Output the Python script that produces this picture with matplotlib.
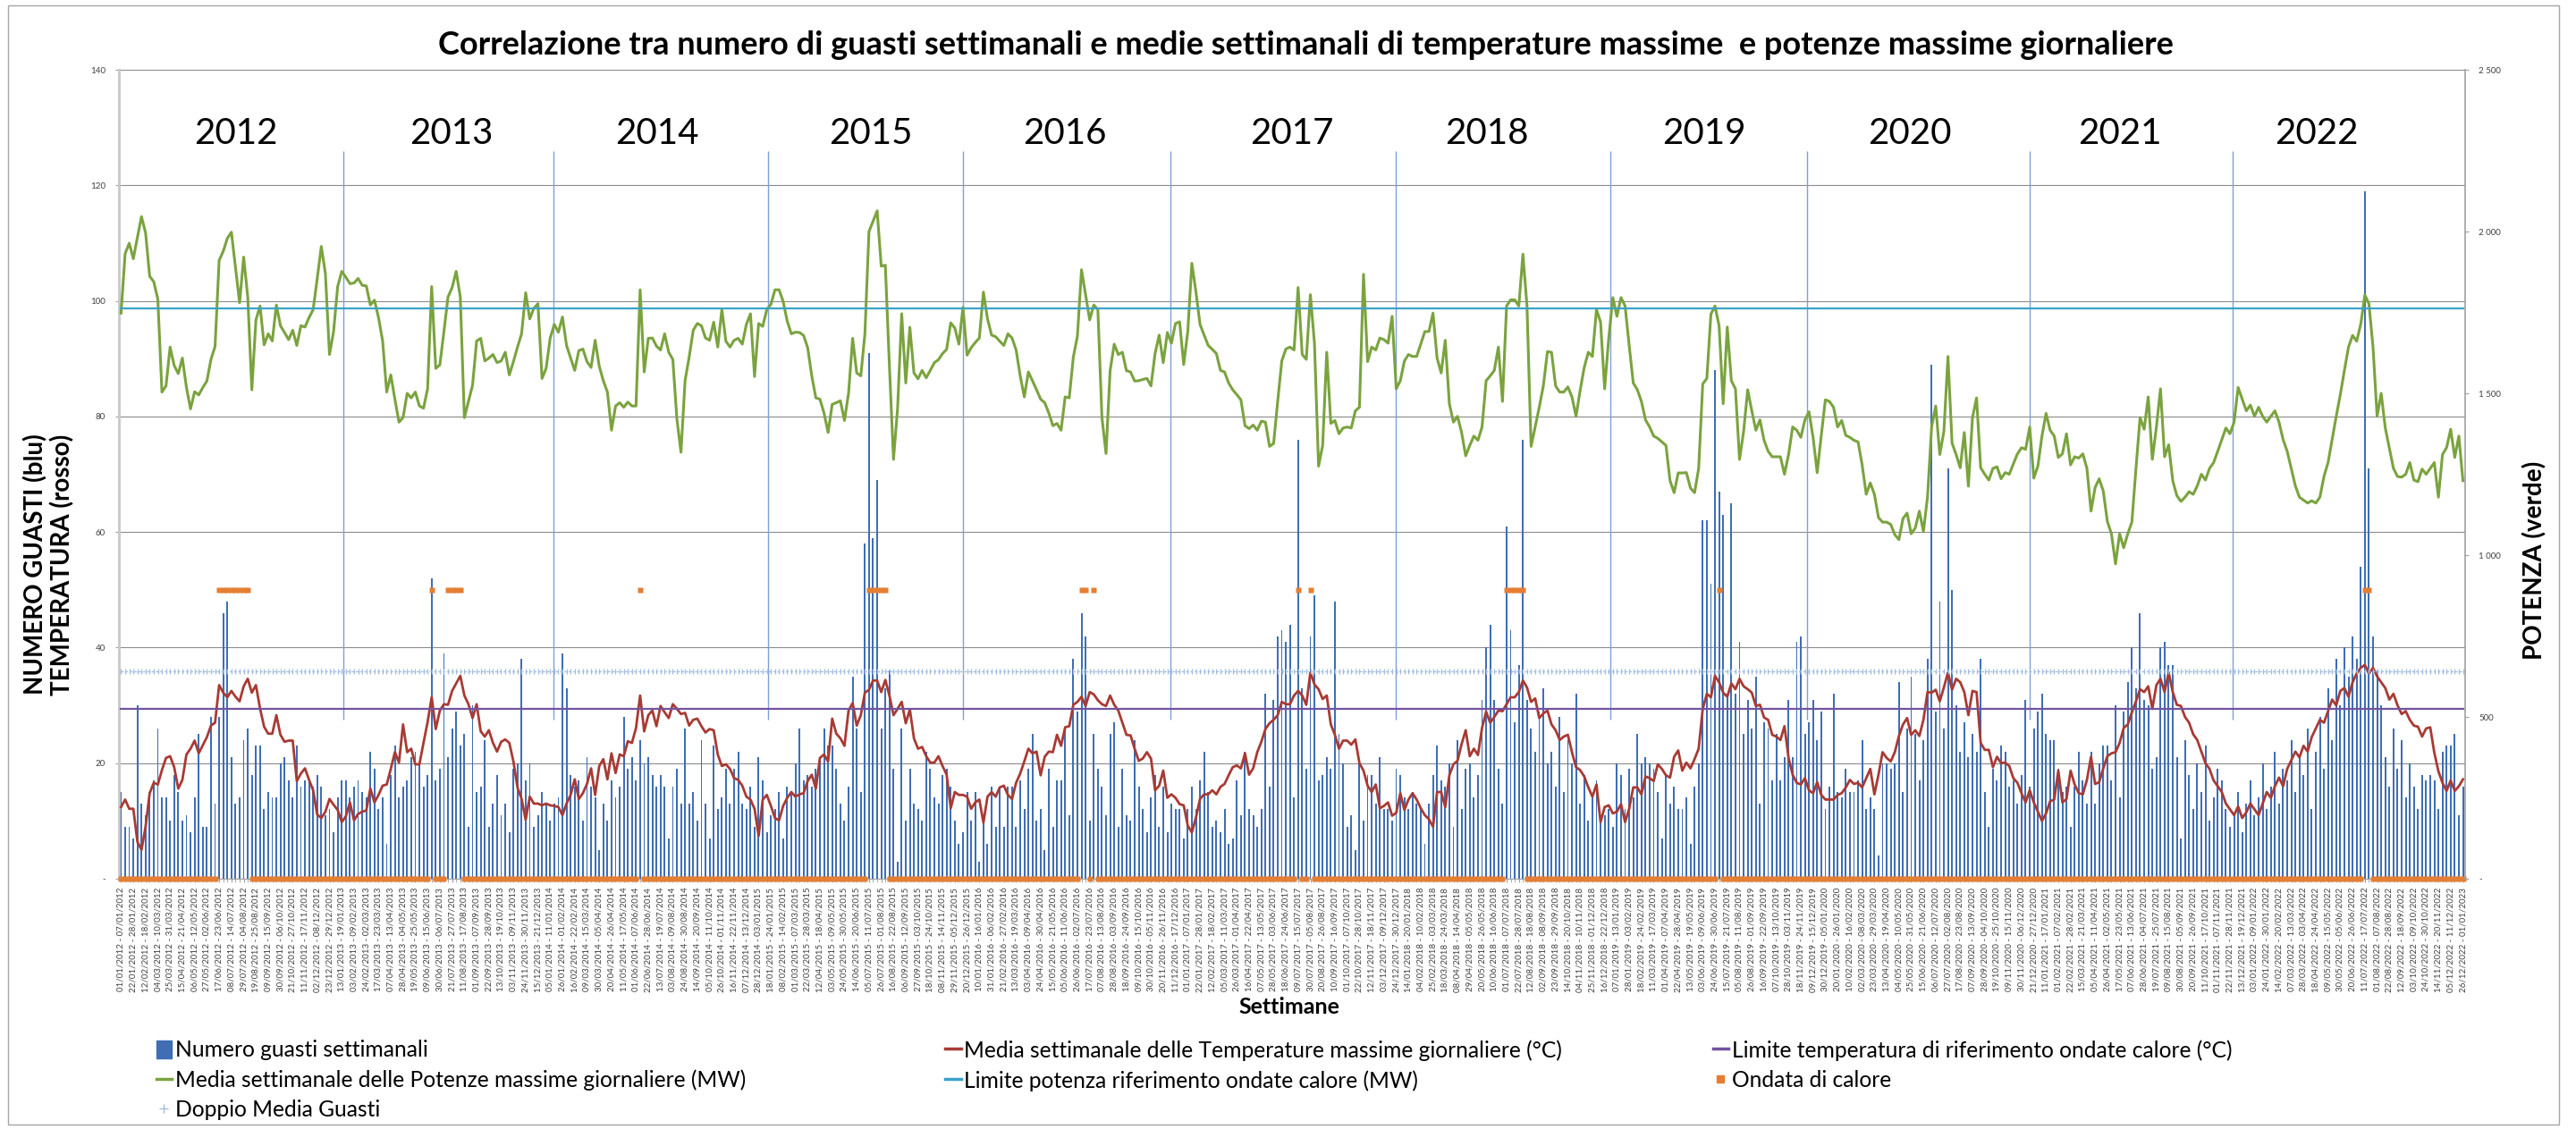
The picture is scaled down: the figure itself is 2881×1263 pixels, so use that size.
import matplotlib
matplotlib.use('Agg')
import matplotlib.pyplot as plt
from matplotlib.patches import Rectangle, Patch
from matplotlib.lines import Line2D
import numpy as np
import pandas as pd

plt.rcParams['font.family'] = ['Lato', 'DejaVu Sans']

# numero guasti per settimana (dal 01/01/2012)
guasti = [
    15, 9, 9, 7, 30, 13, 11, 15, 17, 26, 14, 14, 10, 18, 15, 10, 11, 8, 14, 25,
    9, 9, 28, 13, 28, 46, 48, 21, 13, 14, 24, 26, 18, 23, 23, 12, 15, 14, 14, 20,
    21, 17, 14, 23, 16, 17, 17, 16, 18, 16, 11, 12, 8, 14, 17, 17, 14, 16, 17, 15,
    14, 22, 19, 12, 14, 6, 18, 23, 14, 16, 17, 21,
    22, 20, 16, 18, 52, 17, 19, 39, 21, 26, 29, 23, 25, 9, 30, 15, 16, 24, 9, 13,
    18, 11, 13, 8, 19, 20, 38, 17, 20, 9, 11, 15, 13, 10, 13, 14, 39, 33, 18, 16,
    17, 10, 21, 16, 14, 5, 13, 10, 17, 14, 16, 28, 19, 21, 17, 24, 20, 21, 18, 16,
    18, 16, 7, 16, 19, 13, 26, 13, 15, 10, 24, 13,
    7, 23, 12, 14, 19, 13, 19, 22, 13, 12, 16, 9, 21, 17, 8, 11, 12, 15, 7, 16,
    15, 20, 26, 17, 18, 16, 19, 21, 26, 23, 23, 19, 13, 10, 16, 35, 26, 15, 58, 91,
    59, 69, 26, 33, 36, 19, 3, 26, 10, 19, 13, 12, 10, 22, 19, 14, 13, 18, 19, 16,
    10, 6, 8, 15, 10, 15, 3, 11, 6, 16, 9, 16,
    9, 16, 16, 9, 17, 12, 19, 25, 10, 12, 5, 19, 9, 17, 17, 26, 11, 38, 29, 46,
    42, 10, 25, 19, 16, 11, 25, 27, 9, 19, 11, 10, 24, 16, 12, 8, 14, 18, 9, 16,
    8, 13, 12, 12, 7, 12, 16, 12, 17, 22, 15, 9, 10, 8, 12, 6, 7, 17, 11, 22,
    12, 11, 9, 12, 32, 16, 31, 42, 43, 41, 44, 14,
    76, 33, 19, 42, 49, 17, 18, 21, 19, 48, 25, 20, 9, 11, 5, 20, 10, 18, 18, 13,
    21, 12, 12, 10, 19, 18, 14, 12, 15, 13, 12, 6, 13, 18, 23, 17, 16, 20, 9, 24,
    12, 19, 20, 14, 18, 31, 40, 44, 31, 19, 13, 61, 43, 27, 37, 76, 31, 26, 22, 29,
    33, 20, 22, 16, 28, 15, 24, 20, 32, 13, 18, 10,
    14, 17, 10, 11, 12, 9, 20, 18, 12, 19, 14, 25, 20, 21, 20, 19, 15, 7, 18, 13,
    16, 12, 12, 14, 6, 16, 20, 62, 62, 51, 88, 67, 63, 32, 65, 32, 41, 25, 31, 26,
    35, 13, 27, 26, 17, 25, 17, 21, 31, 21, 41, 42, 25, 27, 31, 24, 29, 12, 16, 32,
    15, 14, 19, 15, 15, 17, 24, 12, 14, 12, 4, 20,
    20, 19, 20, 34, 15, 26, 35, 25, 17, 24, 38, 89, 29, 48, 26, 71, 50, 30, 22, 27,
    21, 25, 22, 38, 15, 9, 19, 17, 23, 22, 16, 17, 13, 18, 31, 16, 26, 29, 32, 25,
    24, 24, 19, 15, 16, 9, 16, 22, 17, 13, 22, 13, 20, 23, 23, 17, 30, 14, 29, 34,
    40, 33, 46, 31, 30, 19, 21, 40, 41, 37, 37, 21, 7,
    24, 18, 12, 20, 15, 23, 10, 14, 19, 17, 12, 9,
    11, 15, 8, 13, 17, 11, 14, 20, 12, 16, 22, 13, 19, 17, 24, 15,
    21, 18, 26, 12, 22, 28, 19, 33, 24, 38, 30, 40, 35, 42, 38, 54,
    119, 71, 42, 36, 30, 21, 16, 26, 19, 24, 14, 20,
    16, 12, 18, 17, 18, 17, 12, 22, 23, 23, 25, 11, 16,
]

# media settimanale temperature massime (°C)
temperatura = [
    12.4, 13.7, 12.1, 12.1, 6.4, 5, 9, 14.8, 16.6, 16.3, 18.8, 20.9, 21.2, 19.3, 15.6, 17.1, 21.5, 22.5, 23.9, 21.7,
    23.1, 24.5, 26.5, 27, 33.5, 32.2, 31.4, 32.5, 31.5, 30.7, 33.3, 34.6, 32.2, 33.5, 29.5, 26.3, 25.1, 25.1, 28.3, 24.9,
    23.7, 23.9, 23.9, 16.9, 18.2, 19.1, 17.1, 15.3, 11.1, 10.5, 11.6, 13.8, 12.8, 11.9, 9.8, 10.8, 13.2, 10.1, 11.2, 11.6,
    11.8, 15.6, 13.2, 14.5, 16.1, 16.3, 19, 21.9, 20.1, 26.7, 21.9, 22.5,
    19.8, 19.8, 23.5, 27.1, 31.4, 25.9, 29.1, 30.2, 30.1, 32.5, 33.8, 35.1, 31.7, 30.2, 27.8, 30.2, 25.5, 24.6, 25.7, 23.5,
    22, 23.7, 24.1, 23.5, 20.3, 15.8, 13.8, 10.2, 14.2, 13, 13, 12.7, 13, 12.7, 12.6, 12.4, 11, 13, 14.5, 17.2,
    13.8, 14.8, 16.4, 19.1, 14.5, 19.5, 20.7, 17.2, 21.7, 18.3, 21.5, 21.2, 23.8, 23.5, 26.1, 31.7, 25.5, 28.3, 29.1, 26.4,
    29.9, 28.8, 27.8, 30.2, 29.4, 28.5, 28.7, 26.5, 27.5, 27.7, 26.4, 25.3,
    25.9, 25.7, 21.5, 19.5, 19.8, 19, 17.4, 17.1, 16.1, 14.2, 13.7, 12.1, 7.4, 13.7, 14.5, 12.6, 10.5, 10.1, 12.6, 14,
    15, 14.2, 14.6, 14.8, 16.9, 18, 15.6, 20.9, 21.5, 20.3, 27.7, 25.1, 24.3, 23, 29.1, 30.4, 26.5, 28.3, 32.2, 32.7,
    34.3, 34.3, 32.3, 34.4, 31.7, 28.3, 29.4, 30.6, 26.9, 29.3, 24.3, 22.5, 22.8, 21.2, 20.1, 20.1, 21.2, 19.5, 18, 12.2,
    15, 14.5, 14.5, 14.2, 12.1, 13.2, 13.7, 9.7, 14.2, 15, 14.2, 15.8,
    16.1, 14.5, 13.8, 16.6, 18.2, 20.3, 22.5, 21.7, 22, 17.9, 21.1, 22, 21.9, 24.9, 23, 26.2, 26.4, 30.1, 30.6, 31.5,
    29.9, 32.3, 31.9, 30.9, 30.2, 29.9, 31.7, 30.1, 29.1, 27, 24.9, 24.8, 22.5, 20.4, 20.8, 21.9, 20.8, 15.3, 16.1, 18.7,
    14, 14.6, 14, 12.9, 12.7, 9.2, 8, 10.6, 13.8, 14.6, 14.6, 15.3, 14.6, 15.9, 16.4, 17.9, 19.3, 19.6, 19.1, 21.7,
    18, 19.1, 21.9, 23.7, 25.9, 26.9, 27.5, 28.3, 30.6, 30.2, 30.2, 31.7,
    32.5, 31.7, 30.1, 35.7, 33.6, 32.8, 31.1, 31.7, 26.7, 24.9, 22.5, 23.9, 23.9, 23.2, 24.1, 20, 18.7, 16.1, 15, 16.3,
    12.2, 12.6, 13.2, 10.9, 11.4, 14.8, 11.9, 13.7, 14.8, 13.7, 12.2, 11, 10.3, 9, 15, 15, 12.4, 17.9, 19.8, 20.4,
    23.3, 25.7, 21.2, 22.5, 21.4, 26.1, 28.9, 27, 28, 29.1, 29, 30.2, 31.4, 31.4, 32.3, 34.3, 33.1, 30.6, 31.2, 27.8,
    28.6, 29.1, 26.7, 25.7, 24, 24.6, 24.9, 21.9, 19.3, 18.8, 17.7, 15.8,
    14.2, 16.3, 9.8, 12.4, 12.7, 11.3, 11.6, 12.9, 9.8, 12.1, 15.8, 15.8, 14.6, 17.7, 17.4, 16.9, 19.8, 19, 17.9, 17.5,
    21.1, 22.2, 18.7, 20.1, 19.1, 20.7, 22.5, 29.4, 32, 31.4, 35.1, 34, 32.2, 31.5, 33.8, 32.8, 34.6, 33.3, 32.8, 32.2,
    29.9, 30.1, 27.9, 27.5, 24.9, 24.6, 24, 26.4, 20.9, 18, 16.6, 16.3, 17.4, 15.3, 14.8, 16.7, 14.5, 13.7, 13.7, 13.7,
    14.5, 14.8, 15.8, 17.1, 16.4, 16.6, 15.8, 17.4, 19, 14.6, 18, 21.9,
    20.9, 20.3, 21.9, 24.7, 26.7, 27.8, 24.9, 25.7, 24.7, 27.5, 32.3, 32.2, 32.7, 30.7, 33.1, 35.7, 32.7, 34.6, 34, 32.3,
    28.3, 32.5, 32.3, 23.5, 22.3, 22.3, 19.3, 21.1, 20, 20.1, 19.5, 17.4, 16.6, 14.8, 13.2, 15.3, 13.2, 11.6, 10, 11.3,
    13.4, 13.7, 18.7, 13.2, 13.8, 18.7, 16.3, 14.8, 14.6, 17.1, 21.1, 16.4, 16.7, 19.1, 21.2, 21.7, 21.9, 23.5, 26.1, 26.7,
    28.8, 30.7, 32.8, 32.3, 33.3, 29.4, 33.5, 34.6, 32.3, 35.7, 32.3, 30.1, 29.9,
    28, 27, 25, 24, 22, 20, 19, 17, 16, 15, 13, 12,
    11, 12.5, 10.5, 11.5, 13, 12, 11, 13, 15, 14, 16, 17.5, 16, 19, 20.5, 22,
    21, 23, 22, 24.5, 26, 27.5, 27, 29, 31, 30, 32.5, 33, 31.5, 34, 35.5, 36.5,
    37, 35.5, 36.5, 35, 34, 33, 31, 32, 30, 28.5, 29, 27.5,
    26.5, 26.3, 24.6, 26, 26.2, 21.8, 18.6, 16.6, 15.2, 17, 15.2, 16, 17.2,
]

# media settimanale potenze massime (MW)
potenza = [
    1748, 1932, 1964, 1916, 1982, 2046, 1996, 1862, 1845, 1791, 1504, 1523, 1643, 1586, 1561, 1609, 1518, 1452, 1505, 1495,
    1518, 1538, 1605, 1645, 1911, 1939, 1979, 1998, 1888, 1780, 1921, 1798, 1511, 1727, 1770, 1650, 1684, 1662, 1773, 1709,
    1688, 1666, 1695, 1648, 1709, 1705, 1734, 1759, 1855, 1954, 1870, 1620, 1691, 1830, 1877, 1859, 1839, 1841, 1855, 1834,
    1832, 1773, 1788, 1734, 1662, 1504, 1557, 1482, 1411, 1425, 1500, 1486,
    1504, 1461, 1454, 1514, 1830, 1577, 1588, 1691, 1798, 1827, 1877, 1798, 1425, 1475, 1525, 1662, 1670, 1600, 1609, 1620,
    1595, 1600, 1627, 1557, 1598, 1643, 1684, 1811, 1730, 1763, 1777, 1546, 1577, 1671, 1713, 1689, 1736, 1648, 1609, 1571,
    1632, 1637, 1598, 1580, 1664, 1584, 1539, 1504, 1386, 1461, 1471, 1457, 1473, 1461, 1461, 1820, 1566, 1670, 1671, 1646,
    1634, 1684, 1627, 1605, 1421, 1318, 1539, 1612, 1695, 1716, 1709, 1671,
    1664, 1720, 1643, 1759, 1661, 1643, 1664, 1670, 1652, 1713, 1746, 1552, 1716, 1707, 1759, 1775, 1820, 1820, 1784, 1723,
    1684, 1689, 1688, 1679, 1641, 1554, 1486, 1482, 1439, 1379, 1466, 1471, 1477, 1416, 1500, 1670, 1563, 1554, 1684, 2000,
    2032, 2064, 1893, 1896, 1584, 1296, 1454, 1746, 1532, 1704, 1563, 1545, 1571, 1548, 1571, 1595, 1604, 1623, 1636, 1718,
    1702, 1652, 1766, 1618, 1641, 1657, 1671, 1813, 1730, 1680, 1675, 1661,
    1648, 1684, 1671, 1634, 1554, 1489, 1566, 1539, 1511, 1482, 1471, 1439, 1400, 1407, 1386, 1489, 1486, 1612, 1677, 1882,
    1805, 1727, 1773, 1759, 1425, 1314, 1570, 1652, 1620, 1627, 1570, 1566, 1538, 1539, 1543, 1546, 1523, 1623, 1680, 1595,
    1688, 1655, 1716, 1721, 1589, 1691, 1902, 1813, 1713, 1680, 1648, 1636, 1623, 1571, 1566, 1532, 1511, 1496, 1480, 1400,
    1391, 1402, 1386, 1414, 1411, 1336, 1345, 1475, 1600, 1637, 1643, 1634,
    1827, 1620, 1605, 1805, 1655, 1275, 1339, 1627, 1407, 1416, 1375, 1393, 1396, 1393, 1446, 1457, 1868, 1598, 1643, 1634,
    1671, 1666, 1655, 1738, 1514, 1539, 1600, 1620, 1614, 1614, 1652, 1691, 1691, 1748, 1609, 1563, 1664, 1468, 1411, 1429,
    1379, 1307, 1339, 1368, 1355, 1396, 1539, 1554, 1571, 1643, 1475, 1770, 1789, 1789, 1770, 1930, 1770, 1336, 1396, 1457,
    1523, 1629, 1627, 1523, 1504, 1504, 1520, 1489, 1429, 1509, 1580, 1627,
    1614, 1759, 1720, 1514, 1670, 1796, 1738, 1796, 1770, 1648, 1532, 1511, 1475, 1418, 1396, 1368, 1361, 1350, 1339, 1230,
    1193, 1254, 1254, 1255, 1207, 1193, 1268, 1529, 1546, 1745, 1770, 1709, 1468, 1705, 1539, 1514, 1296, 1382, 1511, 1446,
    1386, 1418, 1355, 1321, 1304, 1304, 1304, 1250, 1311, 1396, 1386, 1364, 1418, 1443, 1364, 1255, 1370, 1480, 1475, 1457,
    1396, 1416, 1370, 1364, 1355, 1350, 1279, 1188, 1223, 1188, 1116, 1102,
    1102, 1095, 1063, 1048, 1113, 1130, 1066, 1084, 1136, 1073, 1180, 1396, 1461, 1311, 1382, 1614, 1346, 1311, 1270, 1379,
    1213, 1425, 1486, 1270, 1250, 1232, 1268, 1273, 1236, 1255, 1250, 1282, 1313, 1332, 1327, 1396, 1238, 1275, 1368, 1438,
    1386, 1368, 1302, 1313, 1375, 1279, 1304, 1300, 1313, 1268, 1136, 1209, 1236, 1198, 1104, 1066, 973, 1066, 1023, 1066,
    1102, 1268, 1425, 1389, 1489, 1296, 1396, 1514, 1304, 1341, 1230, 1184, 1166,
    1179, 1196, 1188, 1214, 1250, 1232, 1268, 1286, 1321, 1357, 1393, 1375,
    1411, 1518, 1482, 1446, 1464, 1429, 1457, 1429, 1411, 1429, 1446, 1411, 1357, 1321, 1268, 1214,
    1179, 1170, 1161, 1168, 1161, 1179, 1243, 1286, 1357, 1429, 1496, 1571, 1643, 1679, 1661, 1714,
    1804, 1777, 1643, 1429, 1500, 1393, 1330, 1268, 1243, 1241, 1250, 1286,
    1232, 1227, 1266, 1250, 1268, 1286, 1179, 1311, 1332, 1389, 1302, 1368, 1230,
]

# settimane con ondata di calore
settimane_ondata = [24, 25, 26, 27, 28, 29, 30, 31, 76, 80, 81, 82, 83, 127,
                    183, 184, 185, 186, 187, 235, 236, 238, 288, 291,
                    339, 340, 341, 342, 343, 391, 549, 550]
livello_ondata = 50
limite_temperatura = 29.4
limite_potenza = 1763
doppio_media = 35.9

anni = ['2012', '2013', '2014', '2015', '2016', '2017', '2018', '2019', '2020', '2021', '2022']
pos_anni = [28.1, 80.9, 131.2, 183.5, 230.9, 286.4, 334.2, 387.3, 437.6, 489.0, 537.2]
separatori = [54.3, 105.7, 158.4, 205.9, 256.8, 311.8, 364.3, 412.6, 466.9, 516.7]

n = len(guasti)
x = np.arange(n)

# etichette delle settimane (dom-sab fino al 2018, poi lun-dom)
inizio = pd.Timestamp('2012-01-01')
cambio = 365
starts = [inizio + pd.Timedelta(days=7 * i + (1 if i >= cambio else 0)) for i in range(n)]
etichette = [f"{s:%d/%m/%Y} - {s + pd.Timedelta(days=6):%d/%m/%Y}" for s in starts]

fig = plt.figure(figsize=(28.81, 12.63), dpi=100)
ax = fig.add_axes([0.0462, 0.2217, 0.9107, 0.7165])
ax2 = ax.twinx()

ax.bar(x, guasti, width=0.42, color='#3F6EB5', zorder=2)
ax.plot(x, temperatura, color='#A83A34', lw=2.0, zorder=3)
ax.plot(x, [limite_temperatura] * n, color='#7253A0', lw=1.6, zorder=3)
ondata = np.where(np.isin(x, settimane_ondata), livello_ondata, 0)
ax.plot(x, ondata, ls='none', marker='s', ms=4.6, color='#E47F34', mec='none', zorder=4, clip_on=False)
ax.plot(x, [doppio_media] * n, color='#A3BDE0', lw=1.0, ls=(0, (2, 1.5)), marker='|', ms=4, mew=0.9, zorder=3)

ax2.plot(x, potenza, color='#7AA33E', lw=2.2)
ax2.plot(x, [limite_potenza] * n, color='#3BA3C9', lw=1.6)

ax.set_xlim(-0.5, n - 0.5)
ax.set_ylim(0, 140)
ax2.set_ylim(0, 2500)

ax.set_yticks(range(0, 141, 20))
ax.set_yticklabels(['-' if v == 0 else str(v) for v in range(0, 141, 20)])
ax2.set_yticks(range(0, 2501, 500))
ax2.set_yticklabels(['-' if v == 0 else f"{v:,}".replace(',', ' ') for v in range(0, 2501, 500)])
ax.yaxis.grid(True, color='#8C8C8C', lw=0.8)
ax.set_axisbelow(True)

ax.set_xticks(x[::3])
ax.set_xticklabels(etichette[::3], rotation=90, fontsize=7, color='#404040')
ax.set_xticks(x, minor=True)
ax.tick_params(axis='x', which='both', length=3, color='#A0A0A0', pad=4)
ax.tick_params(axis='y', labelsize=7, labelcolor='#404040', length=3, color='#A0A0A0', pad=8)
ax2.tick_params(axis='y', labelsize=7, labelcolor='#404040', length=3, color='#A0A0A0', pad=8)

ax.spines['top'].set_visible(False)
ax.spines['right'].set_visible(False)
ax.spines['left'].set_color('#C8C8C8')
ax.spines['left'].set_linewidth(2)
ax.spines['bottom'].set_color('#A0A0A0')
for s in ['top', 'left', 'bottom']:
    ax2.spines[s].set_visible(False)
ax2.spines['right'].set_color('#A0A0A0')
ax2.spines['right'].set_linewidth(1.2)

# separatori e anni
ax.vlines(separatori, 27.5, 126, color='#7EA0D8', lw=1.0, zorder=1)
for a, p in zip(anni, pos_anni):
    ax.text(p, 129, a, ha='center', va='center', fontsize=29)

fig.text(0.507, 0.960,
         'Correlazione tra numero di guasti settimanali e medie settimanali di temperature massime  e potenze massime giornaliere',
         ha='center', va='center', fontsize=26, fontweight='bold')
fig.text(0.019, 0.50, 'NUMERO GUASTI (blu)\nTEMPERATURA (rosso)', rotation=90,
         ha='center', va='center', fontsize=20, fontweight='bold', linespacing=1.1)
fig.text(0.984, 0.504, 'POTENZA (verde)', rotation=90, ha='center', va='center',
         fontsize=20, fontweight='bold')
fig.text(0.5006, 0.108, 'Settimane', ha='center', va='center', fontsize=18, fontweight='bold')

# legenda su tre colonne
h_guasti = Patch(color='#3F6EB5')
h_temp = Line2D([], [], color='#A83A34', lw=2.5)
h_limt = Line2D([], [], color='#7253A0', lw=2.5)
h_pot = Line2D([], [], color='#7AA33E', lw=2.5)
h_limp = Line2D([], [], color='#3BA3C9', lw=2.5)
h_ond = Line2D([], [], ls='none', marker='s', ms=6, color='#E47F34')
h_dop = Line2D([], [], ls='none', marker='+', ms=7, color='#A3BDE0')
colonne = [
    (0.0607, [h_guasti, h_pot, h_dop], ['Numero guasti settimanali',
                                      'Media settimanale delle Potenze massime giornaliere (MW)',
                                      'Doppio Media Guasti']),
    (0.367, [h_temp, h_limp], ['Media settimanale delle Temperature massime giornaliere (°C)',
                               'Limite potenza riferimento ondate calore (MW)']),
    (0.665, [h_limt, h_ond], ['Limite temperatura di riferimento ondate calore (°C)',
                              'Ondata di calore']),
]
for xc, hh, ll in colonne:
    fig.legend(handles=hh, labels=ll, loc='upper left', bbox_to_anchor=(xc, 0.079),
               frameon=False, fontsize=17.7, handlelength=0.7, handleheight=0.9,
               handletextpad=0.15, labelspacing=0.42, borderaxespad=0, borderpad=0)

fig.patches.append(Rectangle((0.003, 0.004), 0.9904, 0.991, transform=fig.transFigure,
                             fill=False, edgecolor='#A6A6A6', lw=1))

fig.savefig('out.png', dpi=100)
